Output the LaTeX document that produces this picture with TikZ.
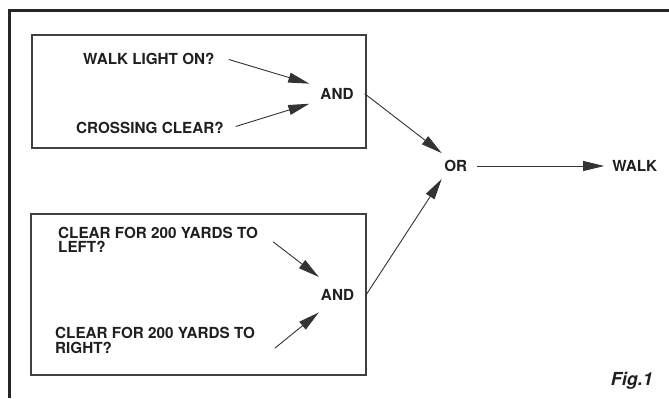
\documentclass[tikz,border=0pt]{standalone}
\usepackage{fontspec}
\setmainfont{TeX Gyre Heros}
\usetikzlibrary{arrows.meta,calc}
\begin{document}
\begin{tikzpicture}[x=1bp, y=-1bp, >={Triangle[length=21bp,width=10bp]},
  lbl/.style={font=\fontsize{15.3}{15}\selectfont\bfseries, text=black!88, inner sep=0pt},
  gate/.style={lbl, inner xsep=11bp, inner ysep=4.3bp},
  wire/.style={->, line width=0.9bp, black!80}]
  \useasboundingbox[fill=white] (0,0) rectangle (669,398);

  % frame and the two boxes
  \draw[line width=3bp, black!85] (9,398) -- (9,10) -- (669,10);
  \draw[line width=1.2bp, black!75] (32,35) rectangle (366,148);
  \draw[line width=1.2bp, black!75] (31,214) rectangle (366,375);

  \node[lbl, anchor=base west] (walkq) at (83,64) {WALK LIGHT ON?};
  \node[lbl, anchor=base west] (crossq) at (76,133) {CROSSING CLEAR?};
  \node[gate] (andtop) at (337,93.7) {AND};

  \node[lbl, anchor=north west, align=left] (leftq) at (58,226.5) {CLEAR FOR 200 YARDS TO\\LEFT?};
  \node[lbl, anchor=north west, align=left] (rightq) at (55,327) {CLEAR FOR 200 YARDS TO\\RIGHT?};
  \node[gate, inner xsep=2bp, inner ysep=12bp] (andbot) at (337.5,294.7) {AND};

  \node[gate, inner xsep=2.5bp, inner ysep=7bp] (or) at (455.8,166) {OR};
  \node[lbl] (walk) at (634.8,166) {WALK};
  \node[lbl, font=\fontsize{18}{18}\selectfont\bfseries\itshape, anchor=base east] (fig) at (653,385) {Fig.1};

  \draw[wire] ($(walkq.east)+(14,1)$) -- (andtop.north west);
  \draw[wire] ($(crossq.east)+(12,-1)$) -- (andtop.south west);
  \draw[wire] ($(leftq.east)+(15,2)$) -- (andbot.north west);
  \draw[wire] ($(rightq.east)+(19.7,7.8)$) -- (andbot.south west);
  \draw[wire] (andtop.east) -- (or.north west);
  \draw[wire] ($(andbot.east)+(10,0)$) -- (or.south west);
  \draw[wire, shorten <=7bp, shorten >=8bp] (or.east) -- (walk.west);
\end{tikzpicture}
\end{document}
